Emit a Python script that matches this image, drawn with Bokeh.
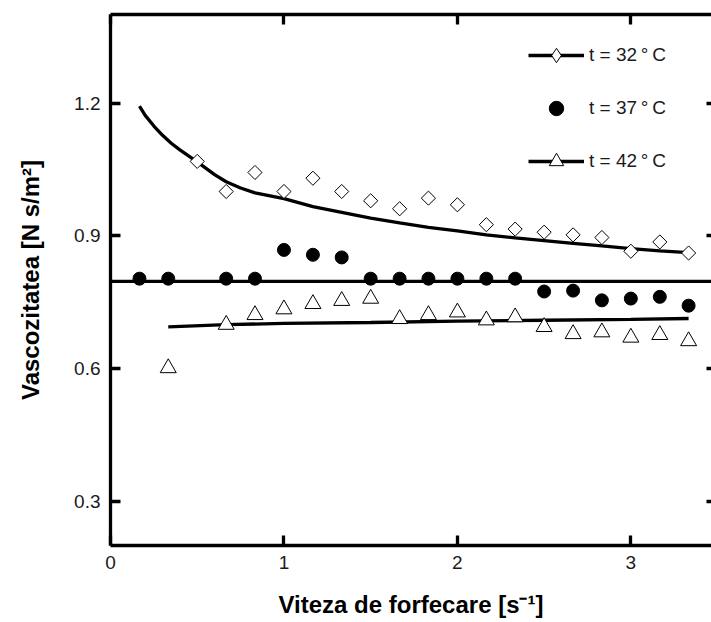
from bokeh.plotting import figure
from bokeh.models import Range1d, LinearAxis, FixedTicker, Legend, LegendItem, ColumnDataSource
from bokeh.embed import file_html
from bokeh.resources import INLINE
import math

# ---- data ----
x_32 = [0.5, 0.667, 0.833, 1.0, 1.167, 1.333, 1.5, 1.667, 1.833, 2.0, 2.167, 2.333, 2.5, 2.667, 2.833, 3.0, 3.167, 3.333]
y_32 = [1.068, 1.00, 1.043, 1.00, 1.03, 1.00, 0.979, 0.961, 0.985, 0.970, 0.925, 0.915, 0.908, 0.902, 0.896, 0.865, 0.886, 0.861]

x_37 = [0.167, 0.333, 0.667, 0.833, 1.0, 1.167, 1.333, 1.5, 1.667, 1.833, 2.0, 2.167, 2.333, 2.5, 2.667, 2.833, 3.0, 3.167, 3.333]
y_37 = [0.803, 0.803, 0.803, 0.803, 0.868, 0.857, 0.851, 0.803, 0.803, 0.803, 0.803, 0.803, 0.803, 0.774, 0.776, 0.754, 0.758, 0.762, 0.742]

x_42 = [0.333, 0.667, 0.833, 1.0, 1.167, 1.333, 1.5, 1.667, 1.833, 2.0, 2.167, 2.333, 2.5, 2.667, 2.833, 3.0, 3.167, 3.333]
y_42 = [0.601, 0.699, 0.721, 0.734, 0.746, 0.753, 0.758, 0.712, 0.721, 0.727, 0.709, 0.716, 0.694, 0.678, 0.682, 0.670, 0.676, 0.662]

fit_x_32 = [0.167, 0.2, 0.25, 0.3, 0.35, 0.4, 0.5, 0.6, 0.667, 0.75, 0.833, 1.0, 1.167, 1.333, 1.5, 1.667, 1.833, 2.0, 2.167, 2.333, 2.5, 2.667, 2.833, 3.0, 3.167, 3.333]
fit_y_32 = [1.193, 1.172, 1.148, 1.127, 1.109, 1.094, 1.067, 1.038, 1.022, 1.008, 0.997, 0.984, 0.966, 0.953, 0.940, 0.929, 0.919, 0.911, 0.902, 0.895, 0.889, 0.883, 0.877, 0.871, 0.866, 0.862]

fit_x_37 = [0.0, 3.5]
fit_y_37 = [0.797, 0.797]

fit_x_42 = [0.333, 0.667, 1.0, 1.5, 2.0, 2.5, 3.0, 3.333]
fit_y_42 = [0.694, 0.699, 0.702, 0.704, 0.707, 0.709, 0.711, 0.713]

x_ticks = [0, 1, 2, 3]
y_ticks = [0.3, 0.6, 0.9, 1.2]

labels = ["t = 32\u2009°\u2009C", "t = 37\u2009°\u2009C", "t = 42\u2009°\u2009C"]
x_title = "Viteza de forfecare [s\u207b\u00b9]"
y_title = "Vascozitatea [N s/m\u00b2]"

FONT = "Liberation Sans"

p = figure(width=711, height=622, output_backend="svg", toolbar_location=None,
           x_range=Range1d(0, 3.465), y_range=Range1d(0.2, 1.4),
           x_axis_location=None, y_axis_location=None,
           min_border_left=110, min_border_right=0, min_border_top=14, min_border_bottom=77)
p.outline_line_color = None
p.xgrid.visible = False
p.ygrid.visible = False
p.background_fill_color = "white"
p.border_fill_color = "white"


def style(ax, labels_on=True):
    ax.axis_line_width = 3.3
    ax.axis_line_color = "black"
    ax.major_tick_line_width = 3.3
    ax.major_tick_line_color = "black"
    ax.major_tick_in = 10
    ax.major_tick_out = 0
    ax.minor_tick_line_color = None
    ax.major_label_text_font = FONT
    if labels_on:
        ax.major_label_text_color = "#1a1a1a"
        ax.major_label_text_font_size = "19px"
        ax.major_label_standoff = 10
    else:
        ax.major_label_text_color = None
        ax.major_label_text_font_size = "1px"
        ax.major_label_standoff = 0
    ax.axis_label_text_font = FONT
    ax.axis_label_text_font_style = "bold"
    ax.axis_label_text_font_size = "24px"
    ax.axis_label_text_color = "black"


xb = LinearAxis(ticker=FixedTicker(ticks=x_ticks), axis_label=x_title)
style(xb)
xb.axis_label_standoff = 19
p.add_layout(xb, "below")

yl = LinearAxis(ticker=FixedTicker(ticks=y_ticks), axis_label=y_title)
style(yl)
yl.axis_label_standoff = 27
p.add_layout(yl, "left")

xt = LinearAxis(ticker=FixedTicker(ticks=x_ticks))
style(xt, labels_on=False)
p.add_layout(xt, "above")

yr = LinearAxis(ticker=FixedTicker(ticks=y_ticks))
style(yr, labels_on=False)
yr.axis_line_color = None
yr.major_tick_in = 5
p.add_layout(yr, "right")

# fit lines
l32 = p.line(fit_x_32, fit_y_32, line_color="black", line_width=3.3)
l37 = p.line(fit_x_37, fit_y_37, line_color="black", line_width=3.3)
l42 = p.line(fit_x_42, fit_y_42, line_color="black", line_width=3.3)

# measured points
s32 = p.scatter(x_32, y_32, marker="square", angle=math.pi / 4, size=10,
                fill_color="white", line_color="black", line_width=1)
s37 = p.scatter(x_37, y_37, marker="circle", size=13,
                fill_color="black", line_color="black", line_width=1)
s42 = p.scatter(x_42, y_42, marker="triangle", size=16,
                fill_color="white", line_color="black", line_width=1)

# legend-only diamond marker (legend glyphs are never rotated); its point is NaN so nothing shows in the plot
d_leg = p.scatter(x="x", y="y", source=ColumnDataSource(data=dict(x=[float("nan")], y=[float("nan")])),
                  marker="diamond", fill_color="white", line_color="black", line_width=1)

legend = Legend(items=[
    LegendItem(label=labels[0], renderers=[l32, d_leg]),
    LegendItem(label=labels[1], renderers=[s37]),
    LegendItem(label=labels[2], renderers=[l42, s42]),
], location=(418, 366))
legend.glyph_width = 56
legend.glyph_height = 36
legend.label_height = 36
legend.spacing = 17
legend.padding = 0
legend.margin = 0
legend.label_standoff = 5
legend.label_text_font = FONT
legend.label_text_font_size = "19px"
legend.label_text_color = "#1a1a1a"
legend.border_line_color = None
legend.background_fill_alpha = 0
p.add_layout(legend, "center")

open("out.html", "w").write(file_html(p, INLINE))
